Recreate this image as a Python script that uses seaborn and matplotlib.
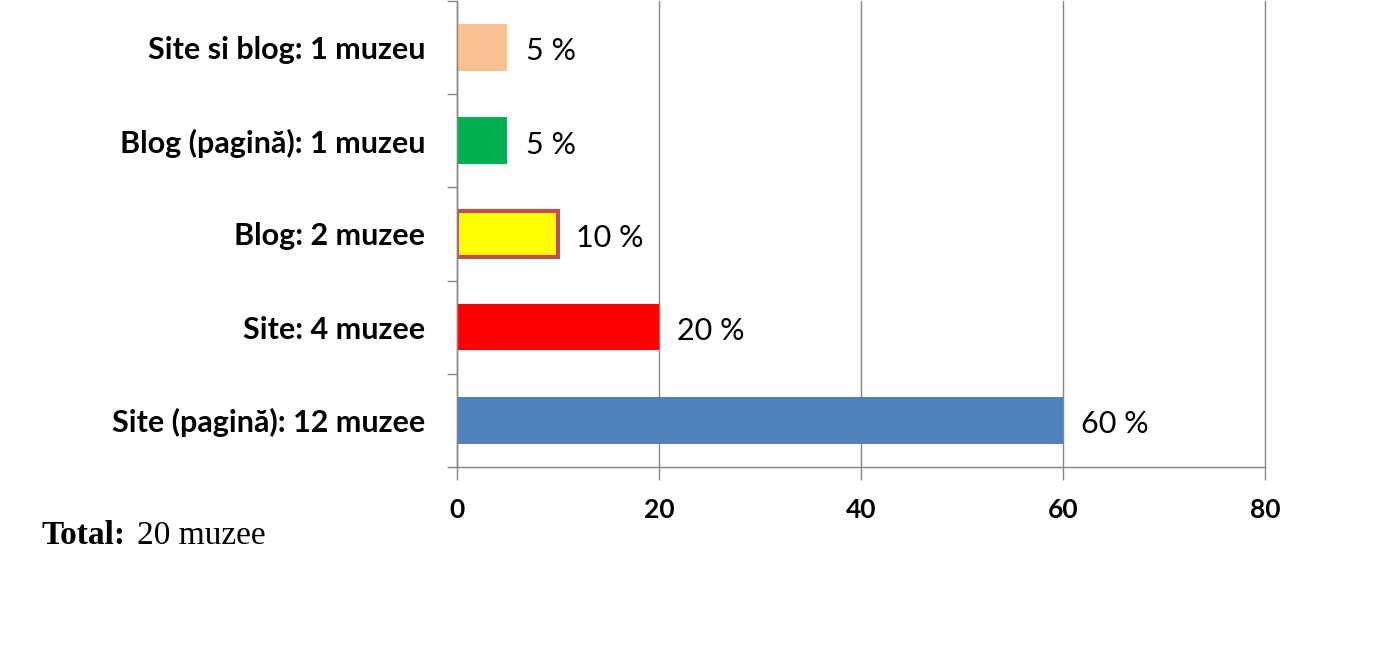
import matplotlib
matplotlib.use("Agg")
import matplotlib.pyplot as plt
import seaborn as sns
import pandas as pd
import numpy as np

categories = ["Site si blog: 1 muzeu", "Blog (pagină): 1 muzeu", "Blog: 2 muzee",
              "Site: 4 muzee", "Site (pagină): 12 muzee"]
values = [5, 5, 10, 20, 60]
value_labels = ["5 %", "5 %", "10 %", "20 %", "60 %"]
colors = ["#FAC090", "#00B050", "#FFFF00", "#FF0000", "#4F81BD"]
x_ticks = [0, 20, 40, 60, 80]

sns.set_theme(style="white")
plt.rcParams['font.family'] = ['Lato', 'DejaVu Sans']
plt.rcParams['text.color'] = 'black'
plt.rcParams['xtick.labelcolor'] = 'black'
plt.rcParams['ytick.labelcolor'] = 'black'

df = pd.DataFrame({"cat": categories, "val": values})

fig = plt.figure(figsize=(14, 6.57), dpi=100)
ax = fig.add_axes([457/1400, 1 - 467/657, (1265-457)/1400, (467-1)/657])

sns.barplot(data=df, x="val", y="cat", hue="cat", palette=colors, order=categories,
            hue_order=categories, orient="h", width=0.5, ax=ax, legend=False,
            saturation=1)

for i, p in enumerate(ax.patches):
    p.set_linewidth(0)
    if categories[i] == "Blog: 2 muzee":
        p.set_edgecolor("#C0504D")
        p.set_linewidth(3)

ax.set_xlim(0, 80)
ax.set_ylim(len(categories) - 0.5, -0.5)
ax.set_xticks(x_ticks)
ax.set_xticklabels([str(t) for t in x_ticks], fontsize=19, fontweight="bold")
ax.set_yticks(range(len(categories)))
ax.set_yticklabels(categories, fontsize=22, fontweight="bold")
ax.set_yticks(np.arange(-0.5, len(categories), 1), minor=True)
ax.tick_params(axis="y", which="major", length=0, pad=23)
ax.tick_params(axis="y", which="minor", length=7.5, width=1, color="#868686", direction="out", left=True)
ax.tick_params(axis="x", which="major", length=9.5, width=1, color="#868686", direction="out", bottom=True, pad=13)
ax.set_xlabel("")
ax.set_ylabel("")

ax.grid(axis="x", color="#868686", linewidth=1)
for gl in ax.get_xgridlines():
    gl.set_clip_on(False)
ax.set_axisbelow(True)
for s in ["top", "right"]:
    ax.spines[s].set_visible(False)
for s in ["left", "bottom"]:
    ax.spines[s].set_color("#868686")
    ax.spines[s].set_linewidth(1)

for i, (v, lab) in enumerate(zip(values, value_labels)):
    ax.text(v + 1.8, i + 0.04, lab, va="center", ha="left", fontsize=22, color="black")

fig.text(42/1400, 1 - 544/657, "Total:", fontsize=24, fontweight="bold",
         family="Liberation Serif", va="baseline", ha="left")
fig.text(137/1400, 1 - 544/657, "20 muzee", fontsize=24,
         family="Liberation Serif", va="baseline", ha="left")

fig.savefig("out.png", dpi=100, facecolor="white")
